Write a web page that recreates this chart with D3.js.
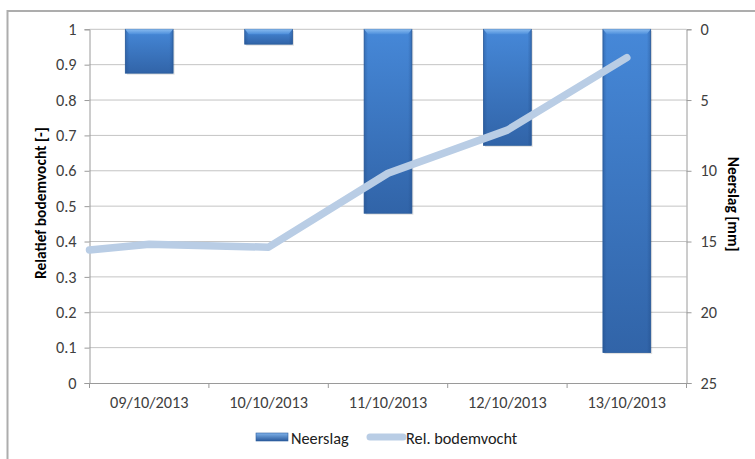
<!DOCTYPE html>
<html>
<head>
<meta charset="utf-8">
<script src="https://cdn.jsdelivr.net/npm/d3@7"></script>
<style>
  html, body { margin: 0; padding: 0; background: #fff; }
  svg { display: block; font-family: Carlito, Lato, "Open Sans", sans-serif; }
</style>
</head>
<body>
<script>
// ---- data ----
const categories = ["09/10/2013", "10/10/2013", "11/10/2013", "12/10/2013", "13/10/2013"];
const neerslag = [3.1, 1.05, 13.0, 8.2, 22.85];            // mm (right axis, inverted)
const moistureDay = [-0.5, 0, 1, 2, 3, 4];                  // position in days relative to first category
const moistureValues = [0.376, 0.392, 0.384, 0.593, 0.715, 0.92];
const leftTicks = [0, 0.1, 0.2, 0.3, 0.4, 0.5, 0.6, 0.7, 0.8, 0.9, 1];
const rightTicks = [0, 5, 10, 15, 20, 25];
const leftTitle = "Relatief bodemvocht [-]";
const rightTitle = "Neerslag [mm]";
const legendLabels = ["Neerslag", "Rel. bodemvocht"];

// ---- layout ----
const W = 755, H = 459;
const plot = { left: 89.5, right: 686.5, top: 29.3, bottom: 383 };
const FS = 16.3;

const svg = d3.select("body").append("svg").attr("width", W).attr("height", H);

const defs = svg.append("defs");
const grad = defs.append("linearGradient").attr("id", "barGrad")
  .attr("x1", 0).attr("y1", 0).attr("x2", 0).attr("y2", 1);
grad.append("stop").attr("offset", "0%").attr("stop-color", "#4688d8");
grad.append("stop").attr("offset", "100%").attr("stop-color", "#3164a8");
const hgrad = defs.append("linearGradient").attr("id", "barH")
  .attr("x1", 0).attr("y1", 0).attr("x2", 1).attr("y2", 0);
hgrad.append("stop").attr("offset", "0%").attr("stop-color", "#1d4680").attr("stop-opacity", 0.35);
hgrad.append("stop").attr("offset", "8%").attr("stop-color", "#1d4680").attr("stop-opacity", 0);
hgrad.append("stop").attr("offset", "92%").attr("stop-color", "#1d4680").attr("stop-opacity", 0);
hgrad.append("stop").attr("offset", "100%").attr("stop-color", "#1d4680").attr("stop-opacity", 0.35);
const topGrad = defs.append("linearGradient").attr("id", "barTop")
  .attr("x1", 0).attr("y1", 0).attr("x2", 0).attr("y2", 1);
topGrad.append("stop").attr("offset", "0%").attr("stop-color", "#8fc0f2");
topGrad.append("stop").attr("offset", "100%").attr("stop-color", "#4d8fdc");
const legGrad = defs.append("linearGradient").attr("id", "legGrad")
  .attr("x1", 0).attr("y1", 0).attr("x2", 0).attr("y2", 1);
legGrad.append("stop").attr("offset", "0%").attr("stop-color", "#7fb2ea");
legGrad.append("stop").attr("offset", "100%").attr("stop-color", "#2a5a9c");

// outer border (chart area frame)
svg.append("rect").attr("x", 7.5).attr("y", 11).attr("width", W + 10).attr("height", H + 10)
  .attr("fill", "none").attr("stroke", "#adadad").attr("stroke-width", 2);

// ---- scales ----
const x = d3.scaleBand().domain(categories).range([plot.left, plot.right]).padding(0);
const xLine = d3.scaleLinear().domain([0, 1])
  .range([x(categories[0]) + x.bandwidth() / 2, x(categories[1]) + x.bandwidth() / 2]);
const y = d3.scaleLinear().domain([0, 1]).range([plot.bottom, plot.top]);
const y2 = d3.scaleLinear().domain([0, 25]).range([plot.top, plot.bottom]);

// gridlines
svg.append("g").selectAll("line").data(leftTicks.filter(d => d > 0)).join("line")
  .attr("x1", plot.left).attr("x2", plot.right)
  .attr("y1", d => y(d)).attr("y2", d => y(d))
  .attr("stroke", "#c4c4c4").attr("stroke-width", 1);

// left axis
const leftAxis = svg.append("g").attr("transform", `translate(${plot.left},0)`)
  .call(d3.axisLeft(y).tickValues(leftTicks).tickFormat(d3.format("")).tickSize(5).tickPadding(8));
// right axis
const rightAxis = svg.append("g").attr("transform", `translate(${plot.right},0)`)
  .call(d3.axisRight(y2).tickValues(rightTicks).tickSize(5).tickPadding(9));
// bottom axis
const bottomAxis = svg.append("g").attr("transform", `translate(0,${plot.bottom})`)
  .call(d3.axisBottom(x).tickSize(0).tickPadding(13));
// category boundary ticks
svg.append("g").selectAll("line")
  .data(categories.map(c => x(c)).concat([plot.right]))
  .join("line")
  .attr("x1", d => d).attr("x2", d => d)
  .attr("y1", plot.bottom).attr("y2", plot.bottom + 5)
  .attr("stroke", "#9a9a9a");

[leftAxis, rightAxis, bottomAxis].forEach(g => {
  g.select(".domain").attr("stroke", "#9a9a9a");
  g.selectAll(".tick line").attr("stroke", "#9a9a9a");
  g.selectAll("text").attr("fill", "#404040").attr("font-size", FS)
    .attr("font-family", "Carlito, Lato, sans-serif");
});
bottomAxis.select(".domain").attr("d", `M${plot.left},0.5H${plot.right}`);

// bars (hanging from top, right axis)
const bw = x.bandwidth() * 0.4;
const bars = svg.append("g").selectAll("g").data(categories).join("g")
  .attr("transform", (c) => `translate(${x(c) + x.bandwidth() / 2 - bw / 2},0)`);
bars.append("rect")
  .attr("x", 1.5).attr("y", y2(0) + 1.5)
  .attr("width", bw).attr("height", (c, i) => y2(neerslag[i]) - y2(0))
  .attr("fill", "#000").attr("opacity", 0.12);
bars.append("rect")
  .attr("x", 0).attr("y", y2(0))
  .attr("width", bw).attr("height", (c, i) => y2(neerslag[i]) - y2(0))
  .attr("fill", "url(#barGrad)").attr("stroke", "#2c5e9e").attr("stroke-width", 0.8);
bars.append("rect")
  .attr("x", 0).attr("y", y2(0))
  .attr("width", bw).attr("height", (c, i) => y2(neerslag[i]) - y2(0))
  .attr("fill", "url(#barH)");
bars.append("path")
  .attr("d", (c, i) => {
    const h = Math.min(5, (y2(neerslag[i]) - y2(0)) / 2);
    return `M0,${y2(0)}H${bw}L${bw - 4},${y2(0) + h}H4Z`;
  })
  .attr("fill", "url(#barTop)").attr("opacity", 0.9);

// moisture line
const line = d3.line()
  .x((d, i) => xLine(moistureDay[i]))
  .y(d => y(d));
svg.append("path").datum(moistureValues)
  .attr("d", line)
  .attr("fill", "none").attr("stroke", "#b9cde5").attr("stroke-width", 7.5)
  .attr("stroke-linejoin", "round").attr("stroke-linecap", "round");

// axis titles
const midY = (plot.top + plot.bottom) / 2;
svg.append("text")
  .attr("transform", `translate(45.5,${midY - 3}) rotate(-90)`)
  .attr("text-anchor", "middle").attr("font-weight", "bold").attr("font-size", 15.5)
  .attr("fill", "#000").text(leftTitle);
svg.append("text")
  .attr("transform", `translate(728,${midY - 2}) rotate(90)`)
  .attr("text-anchor", "middle").attr("font-weight", "bold").attr("font-size", 15.5)
  .attr("fill", "#000").text(rightTitle);

// legend
const leg = svg.append("g");
leg.append("rect").attr("x", 256).attr("y", 433).attr("width", 32).attr("height", 8)
  .attr("fill", "url(#legGrad)").attr("stroke", "#2c5e9e").attr("stroke-width", 0.6);
leg.append("text").attr("x", 291).attr("y", 443.5).attr("font-size", FS).attr("fill", "#202020")
  .text(legendLabels[0]);
leg.append("line").attr("x1", 370).attr("x2", 403).attr("y1", 437).attr("y2", 437)
  .attr("stroke", "#b9cde5").attr("stroke-width", 7).attr("stroke-linecap", "round");
leg.append("text").attr("x", 406).attr("y", 443.5).attr("font-size", FS).attr("fill", "#202020")
  .text(legendLabels[1]);
</script>
</body>
</html>
